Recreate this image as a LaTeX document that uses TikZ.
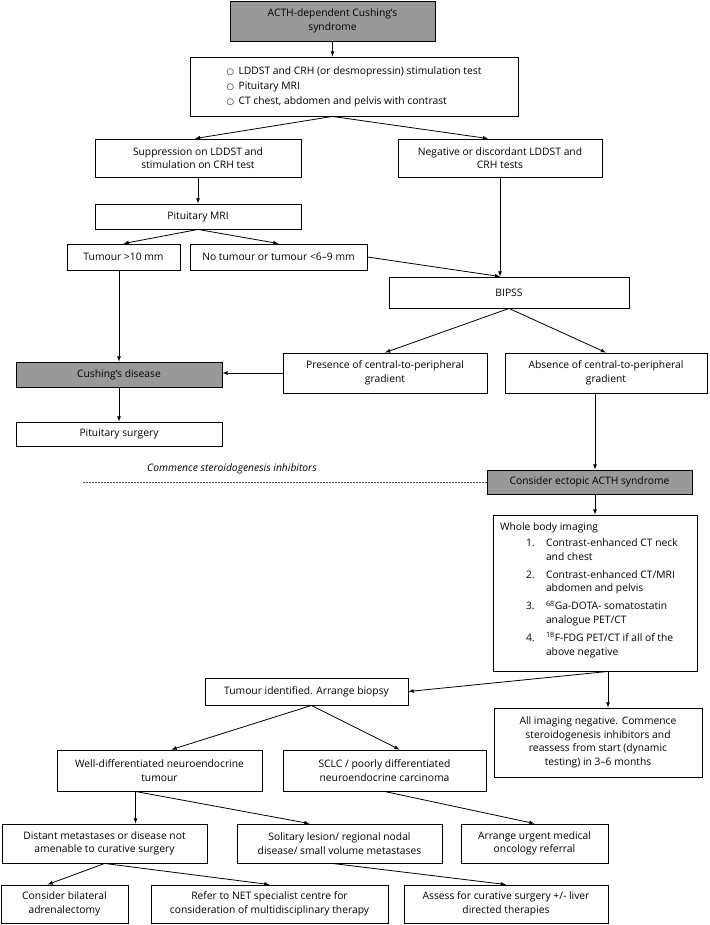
\documentclass[tikz,border=0pt]{standalone}
\usepackage{fontspec}
\setmainfont{Open Sans}
\newfontfamily\symfont{DejaVu Sans}
\newcommand{\ringitem}{\makebox[12pt][l]{\symfont\fontsize{8.5}{8.5}\selectfont ○}}
\begin{document}
\begin{tikzpicture}[x=1pt,y=-1pt,font=\fontsize{10.3}{13.6}\selectfont,
  box/.style={draw,line width=0.9pt,align=center,inner sep=2pt},
  greybox/.style={box,fill=black!40},
  arr/.style={line width=0.8pt,-latex},
  dashline/.style={black!70,line width=0.6pt,dash pattern=on 2pt off 1pt}]
  \useasboundingbox (0,0) rectangle (709,925);
  \node [greybox,minimum width=205,minimum height=40] (topbox) at (332.5,21) {ACTH-dependent Cushing’s\\syndrome};
  \node [box,minimum width=328,minimum height=59,align=left] (box2) at (354,86.5) {\ringitem LDDST and CRH (or desmopressin) stimulation test\\[1.5pt]\ringitem Pituitary MRI\\[1.5pt]\ringitem CT chest, abdomen and pelvis with contrast};
  \node [box,minimum width=206,minimum height=38] (supp) at (198,158) {Suppression on LDDST and\\stimulation on CRH test};
  \node [box,minimum width=204,minimum height=38] (neg) at (500,158) {Negative or discordant LDDST and\\CRH tests};
  \node [box,minimum width=206,minimum height=25] (mri) at (198,216.5) {Pituitary MRI};
  \node [box,minimum width=113,minimum height=26] (tum10) at (123.5,257) {Tumour >10 mm};
  \node [box,minimum width=177,minimum height=26] (notum) at (278.5,257) {No tumour or tumour <6–9 mm};
  \node [box,minimum width=240,minimum height=31] (bipss) at (509,292.5) {BIPSS};
  \node [box,minimum width=204,minimum height=40] (presence) at (385,373) {Presence of central-to-peripheral\\gradient};
  \node [box,minimum width=202,minimum height=40] (absence) at (606,373) {Absence of central-to-peripheral\\gradient};
  \node [greybox,minimum width=206,minimum height=25] (cushing) at (119,374.5) {Cushing’s disease};
  \node [box,minimum width=206,minimum height=24] (pitsurg) at (119,434) {Pituitary surgery};
  \node (commence) at (232,469) {\itshape Commence steroidogenesis inhibitors};
  \node [greybox,minimum width=205,minimum height=24] (ectopic) at (589.5,482) {Consider ectopic ACTH syndrome};
  \node [box,minimum width=204,minimum height=156] (wbody) at (595,593) {\parbox[c][148pt][t]{190pt}{\raggedright
    \vspace*{4pt}Whole body imaging\\[2pt]
    \hspace*{26pt}\makebox[20pt][l]{1.}Contrast-enhanced CT neck\\
    \hspace*{46pt}and chest\\[4.5pt]
    \hspace*{26pt}\makebox[20pt][l]{2.}Contrast-enhanced CT/MRI\\
    \hspace*{46pt}abdomen and pelvis\\[4.5pt]
    \hspace*{26pt}\makebox[20pt][l]{3.}\textsuperscript{68}Ga-DOTA- somatostatin\\
    \hspace*{46pt}analogue PET/CT\\[4.5pt]
    \hspace*{26pt}\makebox[20pt][l]{4.}\textsuperscript{18}F-FDG PET/CT if all of the\\
    \hspace*{46pt}above negative}};
  \node [box,minimum width=203,minimum height=27] (tumid) at (306.5,691.5) {Tumour identified. Arrange biopsy};
  \node [box,minimum width=208,minimum height=69] (allneg) at (598,742.5) {All imaging negative. Commence\\steroidogenesis inhibitors and\\reassess from start (dynamic\\testing) in 3–6 months};
  \node [box,minimum width=205,minimum height=41] (welld) at (159.5,770.5) {Well-differentiated neuroendocrine\\tumour};
  \node [box,minimum width=203,minimum height=41] (sclc) at (384.5,770.5) {SCLC / poorly differentiated\\neuroendocrine carcinoma};
  \node [box,minimum width=205,minimum height=39] (distant) at (104.5,843.5) {Distant metastases or disease not\\amenable to curative surgery};
  \node [box,minimum width=205,minimum height=39] (solitary) at (339.5,843.5) {Solitary lesion/ regional nodal\\disease/ small volume metastases};
  \node [box,minimum width=147,minimum height=39] (arrange) at (534.5,843.5) {Arrange urgent medical\\oncology referral};
  \node [box,minimum width=127,minimum height=38] (bilat) at (64.5,904) {Consider bilateral\\adrenalectomy};
  \node [box,minimum width=237,minimum height=38] (refer) at (269.5,904) {Refer to NET specialist centre for\\consideration of multidisciplinary therapy};
  \node [box,minimum width=204,minimum height=38] (assess) at (506,904) {Assess for curative surgery +/- liver\\directed therapies};
  \coordinate (b2out) at (topbox.south |- box2.south);
  \coordinate (bipin) at (neg.south |- bipss.north);
  \coordinate (dashend) at (83,482);
  \coordinate (wbout) at ([xshift=13pt]wbody.south);
  \coordinate (tiout) at ([xshift=5pt]tumid.south);
  \coordinate (wdout) at ([xshift=-24pt]welld.south);
  \draw [arr] (topbox.south) -- (topbox.south |- box2.north);
  \draw [arr] (b2out) -- ([xshift=-3pt]supp.north);
  \draw [arr] (b2out) -- ([xshift=-12pt]neg.north);
  \draw [arr] (supp.south) -- (mri.north);
  \draw [arr] (mri.south) -- (tum10.north);
  \draw [arr] (mri.south) -- (notum.north);
  \draw [arr] (neg.south) -- (bipin);
  \draw [arr] (notum.east) -- (bipin);
  \draw [arr] (cushing.north |- tum10.south) -- (cushing.north);
  \draw [arr] (bipss.south) -- (presence.north);
  \draw [arr] (bipss.south) -- (absence.north);
  \draw [arr] (presence.west) -- (presence.west -| cushing.east);
  \draw [arr] (cushing.south) -- (pitsurg.north);
  \draw [dashline] (dashend) -- (ectopic.west);
  \draw [arr] (wbody.north |- absence.south) -- (wbody.north |- ectopic.north);
  \draw [arr] (wbody.north |- ectopic.south) -- (wbody.north);
  \draw [arr] (wbout) -- (tumid.east);
  \draw [arr] (wbout) -- (wbout |- allneg.north);
  \draw [arr] (tiout) -- ([xshift=12pt]welld.north);
  \draw [arr] (tiout) -- ([xshift=15pt]sclc.north);
  \draw [arr] (wdout) -- (wdout |- distant.north);
  \draw [arr] (wdout) -- ([xshift=-30pt]solitary.north);
  \draw [arr] (sclc.south) -- (arrange.north);
  \draw [arr] (distant.south) -- ([xshift=-17pt]bilat.north);
  \draw [arr] (distant.south) -- (refer.north);
  \draw [arr] ([xshift=-7pt]solitary.south) -- (assess.north);
\end{tikzpicture}
\end{document}
